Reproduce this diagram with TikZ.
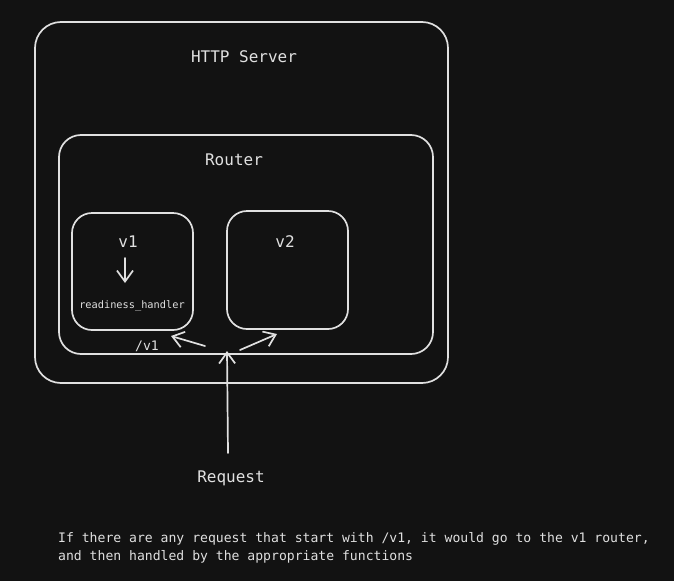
\documentclass[tikz,border=0pt]{standalone}
\usepackage{fontspec}
\setmonofont{DejaVu Sans Mono}
\usetikzlibrary{arrows.meta}
\definecolor{bg}{HTML}{121212}
\definecolor{ink}{HTML}{E0E0E0}
\tikzset{
  box/.style={draw=ink, line width=1.7pt, rounded corners=#1, inner sep=0pt},
  lbl/.style={text=ink, font=\ttfamily\fontsize{16}{19}\selectfont, inner sep=0pt},
  small/.style={text=ink, font=\ttfamily\fontsize{10.3}{12}\selectfont, inner sep=0pt},
  mid/.style={text=ink, font=\ttfamily\fontsize{13.1}{18}\selectfont, inner sep=0pt},
  arr/.style={draw=ink, line width=1.7pt, line cap=round, -{Straight Barb[length=11pt, width=16pt, line width=1.7pt]}}
}
\begin{document}
\begin{tikzpicture}[x=1pt, y=-1pt]
\fill[bg] (0,0) rectangle (674,581);
\useasboundingbox (0,0) rectangle (674,581);
% boxes
\node[box=26pt, minimum width=413pt, minimum height=361pt] (server) at (241.5,202.5) {};
\node[box=22pt, minimum width=374pt, minimum height=219pt] (router) at (246,244.5) {};
\node[box=20pt, minimum width=121pt, minimum height=117pt] (v1box) at (132.5,271.5) {};
\node[box=20pt, minimum width=121pt, minimum height=118pt] (v2box) at (287.5,270) {};
% labels
\node[lbl] (serverlbl) at (244,57) {HTTP Server};
\node[lbl] (routerlbl) at (234,160) {Router};
\node[lbl] (v1lbl) at (128,242) {v1};
\node[lbl] (v2lbl) at (285,242) {v2};
\node[small] (handler) at (132,306) {readiness\_handler};
\node[mid] (v1path) at (147,346) {/v1};
\node[lbl] (request) at (231,478) {Request};
\node[mid, anchor=north west, align=left] (note) at (58,532) {If there are any request that start with /v1, it would go to the v1 router,\\and then handled by the appropriate functions};
% connector points
\coordinate (v1a) at (125,258);
\coordinate (v1b) at (125,283);
\coordinate (reqtop) at (228,453);
\coordinate (hub) at (227,351);
\coordinate (la) at (205,346);
\coordinate (lb) at (171,336);
\coordinate (ra) at (240,350);
\coordinate (rb) at (277,334);
% arrows
\draw[arr] (v1a) -- (v1b);
\draw[arr] (reqtop) -- (hub);
\draw[arr] (la) -- (lb);
\draw[arr] (ra) -- (rb);
\end{tikzpicture}
\end{document}
